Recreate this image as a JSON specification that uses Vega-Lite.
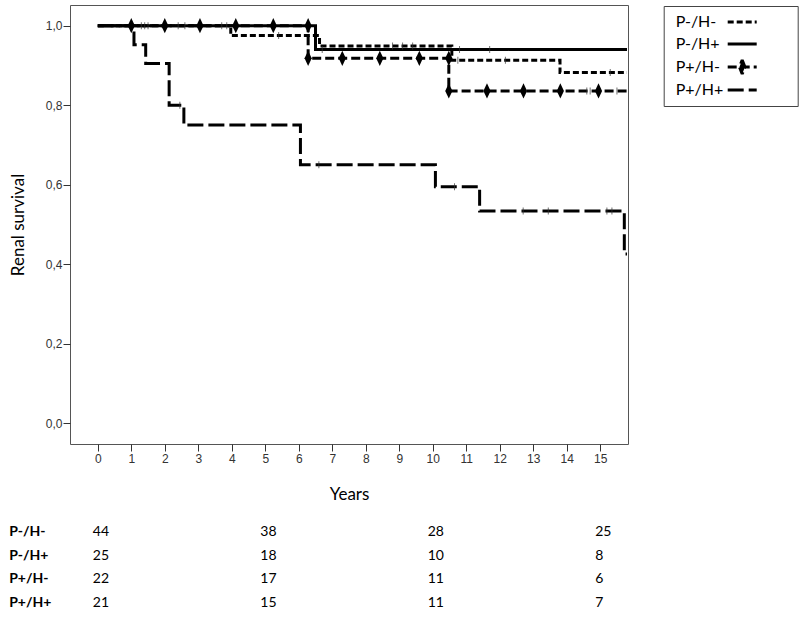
{
  "$schema": "https://vega.github.io/schema/vega-lite/v6.json",
  "padding": {"left": 8, "top": 4, "right": 0, "bottom": 0},
  "autosize": {"type": "pad"},
  "bounds": "flush",
  "spacing": 76,
  "config": {"font": "Lato", "view": {"stroke": null}},
  "datasets": {
    "curves": [
      {"group": "P+/H+", "time": 0, "surv": 1.0},
      {"group": "P+/H+", "time": 1.08, "surv": 0.952},
      {"group": "P+/H+", "time": 1.43, "surv": 0.905},
      {"group": "P+/H+", "time": 2.13, "surv": 0.80},
      {"group": "P+/H+", "time": 2.57, "surv": 0.75},
      {"group": "P+/H+", "time": 6.05, "surv": 0.65},
      {"group": "P+/H+", "time": 10.08, "surv": 0.595},
      {"group": "P+/H+", "time": 11.4, "surv": 0.534},
      {"group": "P+/H+", "time": 15.72, "surv": 0.426},
      {"group": "P+/H+", "time": 15.8, "surv": 0.426},
      {"group": "P-/H-", "time": 0, "surv": 1.0},
      {"group": "P-/H-", "time": 3.97, "surv": 0.975},
      {"group": "P-/H-", "time": 6.62, "surv": 0.949},
      {"group": "P-/H-", "time": 10.57, "surv": 0.913},
      {"group": "P-/H-", "time": 13.8, "surv": 0.882},
      {"group": "P-/H-", "time": 15.8, "surv": 0.882},
      {"group": "P+/H-", "time": 0, "surv": 1.0},
      {"group": "P+/H-", "time": 6.28, "surv": 0.918},
      {"group": "P+/H-", "time": 10.48, "surv": 0.836},
      {"group": "P+/H-", "time": 15.8, "surv": 0.836},
      {"group": "P-/H+", "time": 0, "surv": 1.0},
      {"group": "P-/H+", "time": 6.5, "surv": 0.94},
      {"group": "P-/H+", "time": 15.8, "surv": 0.94}
    ],
    "censors": [
      {"group": "P+/H+", "time": 2.45, "surv": 0.80},
      {"group": "P+/H+", "time": 6.6, "surv": 0.65},
      {"group": "P+/H+", "time": 10.65, "surv": 0.595},
      {"group": "P+/H+", "time": 12.7, "surv": 0.534},
      {"group": "P+/H+", "time": 13.45, "surv": 0.534},
      {"group": "P+/H+", "time": 15.2, "surv": 0.534},
      {"group": "P+/H+", "time": 15.35, "surv": 0.534},
      {"group": "P-/H-", "time": 1.3, "surv": 1.0},
      {"group": "P-/H-", "time": 1.4, "surv": 1.0},
      {"group": "P-/H-", "time": 1.5, "surv": 1.0},
      {"group": "P-/H-", "time": 2.4, "surv": 1.0},
      {"group": "P-/H-", "time": 2.6, "surv": 1.0},
      {"group": "P-/H-", "time": 3.7, "surv": 1.0},
      {"group": "P-/H-", "time": 3.85, "surv": 1.0},
      {"group": "P-/H-", "time": 5.4, "surv": 0.975},
      {"group": "P-/H-", "time": 8.8, "surv": 0.949},
      {"group": "P-/H-", "time": 9.1, "surv": 0.949},
      {"group": "P-/H-", "time": 9.4, "surv": 0.949},
      {"group": "P-/H-", "time": 10.75, "surv": 0.913},
      {"group": "P-/H-", "time": 12.17, "surv": 0.913},
      {"group": "P-/H-", "time": 15.3, "surv": 0.882},
      {"group": "P-/H+", "time": 6.7, "surv": 0.94},
      {"group": "P-/H+", "time": 10.8, "surv": 0.94},
      {"group": "P-/H+", "time": 11.7, "surv": 0.94},
      {"group": "P+/H-", "time": 14.6, "surv": 0.836},
      {"group": "P+/H-", "time": 14.7, "surv": 0.836},
      {"group": "P+/H-", "time": 15.5, "surv": 0.836}
    ],
    "markers": [
      {"group": "P+/H-", "time": 1.0, "surv": 1.0},
      {"group": "P+/H-", "time": 2.0, "surv": 1.0},
      {"group": "P+/H-", "time": 3.05, "surv": 1.0},
      {"group": "P+/H-", "time": 4.12, "surv": 1.0},
      {"group": "P+/H-", "time": 5.24, "surv": 1.0},
      {"group": "P+/H-", "time": 6.28, "surv": 1.0},
      {"group": "P+/H-", "time": 6.28, "surv": 0.918},
      {"group": "P+/H-", "time": 7.3, "surv": 0.918},
      {"group": "P+/H-", "time": 8.42, "surv": 0.918},
      {"group": "P+/H-", "time": 9.6, "surv": 0.918},
      {"group": "P+/H-", "time": 10.48, "surv": 0.918},
      {"group": "P+/H-", "time": 10.48, "surv": 0.836},
      {"group": "P+/H-", "time": 11.62, "surv": 0.836},
      {"group": "P+/H-", "time": 12.71, "surv": 0.836},
      {"group": "P+/H-", "time": 13.81, "surv": 0.836},
      {"group": "P+/H-", "time": 14.95, "surv": 0.836}
    ],
    "atrisk": [
      {"group": "P-/H-", "time": 0, "n": 44},
      {"group": "P-/H-", "time": 5, "n": 38},
      {"group": "P-/H-", "time": 10, "n": 28},
      {"group": "P-/H-", "time": 15, "n": 25},
      {"group": "P-/H+", "time": 0, "n": 25},
      {"group": "P-/H+", "time": 5, "n": 18},
      {"group": "P-/H+", "time": 10, "n": 10},
      {"group": "P-/H+", "time": 15, "n": 8},
      {"group": "P+/H-", "time": 0, "n": 22},
      {"group": "P+/H-", "time": 5, "n": 17},
      {"group": "P+/H-", "time": 10, "n": 11},
      {"group": "P+/H-", "time": 15, "n": 6},
      {"group": "P+/H+", "time": 0, "n": 21},
      {"group": "P+/H+", "time": 5, "n": 15},
      {"group": "P+/H+", "time": 10, "n": 11},
      {"group": "P+/H+", "time": 15, "n": 7}
    ]
  },
  "resolve": {"scale": {"x": "independent", "y": "independent"}},
  "vconcat": [
    {
      "width": 558,
      "height": 439,
      "view": {"stroke": "#555", "strokeWidth": 1},
      "encoding": {
        "x": {
          "field": "time", "type": "quantitative",
          "scale": {"domain": [-0.83, 15.83], "nice": false, "zero": false},
          "axis": {
            "values": [0,1,2,3,4,5,6,7,8,9,10,11,12,13,14,15],
            "format": "d", "title": "Years", "grid": false, "domain": false,
            "tickSize": 7, "tickColor": "#333", "labelPadding": 2,
            "labelFont": "Liberation Sans", "labelFontSize": 12, "labelColor": "#333",
            "titleFont": "Lato", "titleFontSize": 17, "titleFontWeight": "normal",
            "titleColor": "black", "titlePadding": 22
          }
        },
        "y": {
          "field": "surv", "type": "quantitative",
          "scale": {"domain": [-0.052, 1.052], "nice": false, "zero": false},
          "axis": {
            "values": [0, 0.2, 0.4, 0.6, 0.8, 1.0],
            "labelExpr": "replace(format(datum.value, '.1f'), '.', ',')",
            "title": "Renal survival", "grid": false, "domain": false,
            "tickSize": 7, "tickColor": "#333", "labelPadding": 1,
            "labelFont": "Liberation Sans", "labelFontSize": 12, "labelColor": "#333",
            "titleFont": "Lato", "titleFontSize": 17, "titleFontWeight": "normal",
            "titleColor": "black", "titlePadding": 18
          }
        }
      },
      "layer": [
        {
          "data": {"name": "curves"},
          "mark": {"type": "line", "interpolate": "step-after", "color": "black", "strokeWidth": 3, "clip": true},
          "encoding": {
            "detail": {"field": "group"},
            "strokeDash": {
              "field": "group", "type": "nominal",
              "scale": {
                "domain": ["P-/H-", "P-/H+", "P+/H-", "P+/H+"],
                "range": [[6, 3], [1, 0], [9, 4], [16, 5]]
              },
              "legend": {
                "orient": "none", "legendX": 593.7, "legendY": 1, "title": null,
                "symbolType": "M-2.9,0L2.9,0M9.2,0",
                "symbolSize": 100, "symbolStrokeWidth": 3,
                "symbolStrokeColor": "black", "symbolFillColor": "transparent",
                "labelFont": "Lato", "labelFontSize": 16, "labelColor": "black",
                "strokeColor": "#444", "fillColor": "white", "padding": 8,
                "symbolOffset": 62.5, "labelOffset": -74.5,
                "rowPadding": 6,
                "encode": {
                  "symbols": {
                    "update": {
                      "shape": {"signal": "datum.value === 'P+/H-' ? 'M-2.9,0L2.9,0M0,-1.4L0.55,0L0,1.4L-0.55,0ZM9.2,0' : 'M-2.9,0L2.9,0M9.2,0'"},
                      "fill": {"signal": "datum.value === 'P+/H-' ? 'black' : 'transparent'"},
                      "stroke": {"value": "black"},
                      "strokeWidth": {"value": 3},
                      "strokeJoin": {"value": "bevel"}
                    }
                  }
                }
              }
            }
          }
        },
        {
          "data": {"name": "censors"},
          "mark": {"type": "tick", "orient": "vertical", "size": 7, "thickness": 1, "color": "#333", "clip": true}
        },
        {
          "data": {"name": "markers"},
          "mark": {"type": "point", "shape": "M0,-1.9L0.9,0L0,1.9L-0.9,0Z", "filled": true, "color": "black", "opacity": 1, "size": 64, "clip": true}
        }
      ]
    },
    {
      "width": 558,
      "height": 95,
      "view": {"stroke": null},
      "data": {"name": "atrisk"},
      "mark": {"type": "text", "align": "left", "dx": -5, "font": "Lato", "fontSize": 14, "color": "black"},
      "encoding": {
        "x": {
          "field": "time", "type": "quantitative",
          "scale": {"domain": [-0.83, 15.83], "nice": false, "zero": false},
          "axis": null
        },
        "y": {
          "field": "group", "type": "nominal",
          "sort": ["P-/H-", "P-/H+", "P+/H-", "P+/H+"],
          "scale": {"type": "band", "paddingInner": 0, "paddingOuter": 0},
          "axis": {
            "title": null, "domain": false, "ticks": false, "tickSize": 0,
            "labelAlign": "left", "labelPadding": 61.3,
            "labelFont": "Lato", "labelFontWeight": "bold", "labelFontSize": 14, "labelColor": "black"
          }
        },
        "text": {"field": "n", "type": "quantitative"}
      }
    }
  ]
}
